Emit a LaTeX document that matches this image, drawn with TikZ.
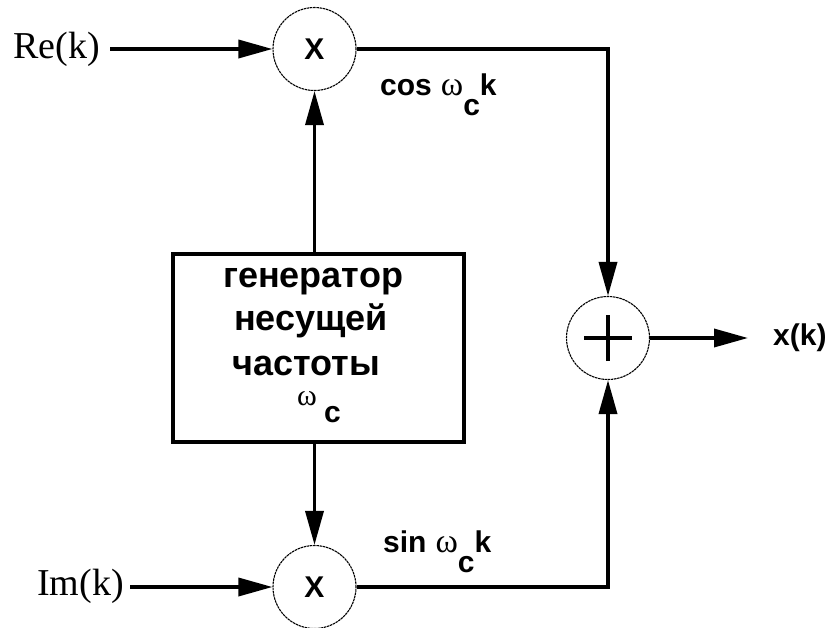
\documentclass[tikz,border=0pt]{standalone}
\usepackage{fontspec}
\setmainfont{Liberation Serif}
\setsansfont{Liberation Sans}
\usetikzlibrary{arrows.meta}
\begin{document}
\begin{tikzpicture}[x=1pt,y=-1pt,
  conn/.style={line width=3.5pt},
  arr/.style={conn,-{Triangle[length=34pt,width=18pt]}},
  mix/.style={circle,draw,line width=1.1pt,dash pattern=on 2.5pt off 0.7pt,minimum size=83pt,inner sep=0pt},
  lbl/.style={font=\fontsize{30}{36}\selectfont\sffamily\bfseries,inner sep=0pt},
  serl/.style={font=\fontsize{38}{42}\selectfont\rmfamily,inner sep=0pt},
  boxt/.style={font=\fontsize{36}{40}\selectfont\sffamily\bfseries,inner sep=0pt,anchor=base}
]
\useasboundingbox (0,0) rectangle (830,627);
% multipliers and adder
\node[mix,lbl] (m1) at (314.5,49) {X};
\node[mix,lbl] (m2) at (314.5,587) {X};
\node[mix] (sum) at (608,338) {};
\draw[line width=4.5pt] ([xshift=-24pt]sum.center) -- ([xshift=24pt]sum.center);
\draw[line width=4.5pt] ([yshift=-23pt]sum.center) -- ([yshift=23pt]sum.center);
% generator box
\node[draw,line width=3.5pt,minimum width=291pt,minimum height=188pt,inner sep=0pt] (gen) at (318.5,348) {};
\node[boxt] (g1) at (313,287) {генератор};
\node[boxt] (g2) at (311,330) {несущей};
\node[boxt] (g3) at (306,375) {частоты};
\node[font=\fontsize{30}{32}\selectfont\rmfamily,inner sep=0pt,anchor=base west] (g4) at (297,405) {ω};
\node[lbl,anchor=base west] (g5) at (324,422) {c};
% inputs / outputs
\node[serl,anchor=base west] (re) at (13,58) {Re(k)};
\node[serl,anchor=base west] (im) at (37,595) {Im(k)};
\coordinate (reS) at (110,49);
\coordinate (imS) at (130,587);
\draw[arr] (reS) -- (m1.west);
\draw[arr] (imS) -- (m2.west);
\draw[arr] (m1.east) -| (sum.north);
\draw[arr] (m2.east) -| (sum.south);
\draw[arr] (gen.north -| m1) -- (m1.south);
\draw[arr] (gen.south -| m2) -- (m2.north);
\coordinate (outE) at (748,338);
\draw[arr] (sum.east) -- (outE);
\node[lbl,anchor=west] (xk) at (773,338) {x(k)};
% carrier labels
\node[lbl,anchor=base west] (cosl) at (380,95) {cos\hspace{9pt}{\mdseries\rmfamily\fontsize{34}{36}\selectfont ω}\raisebox{-20pt}{c}k};
\node[lbl,anchor=base west] (sinl) at (383,552) {sin\hspace{9pt}{\mdseries\rmfamily\fontsize{34}{36}\selectfont ω}\raisebox{-20pt}{c}k};
\end{tikzpicture}
\end{document}
